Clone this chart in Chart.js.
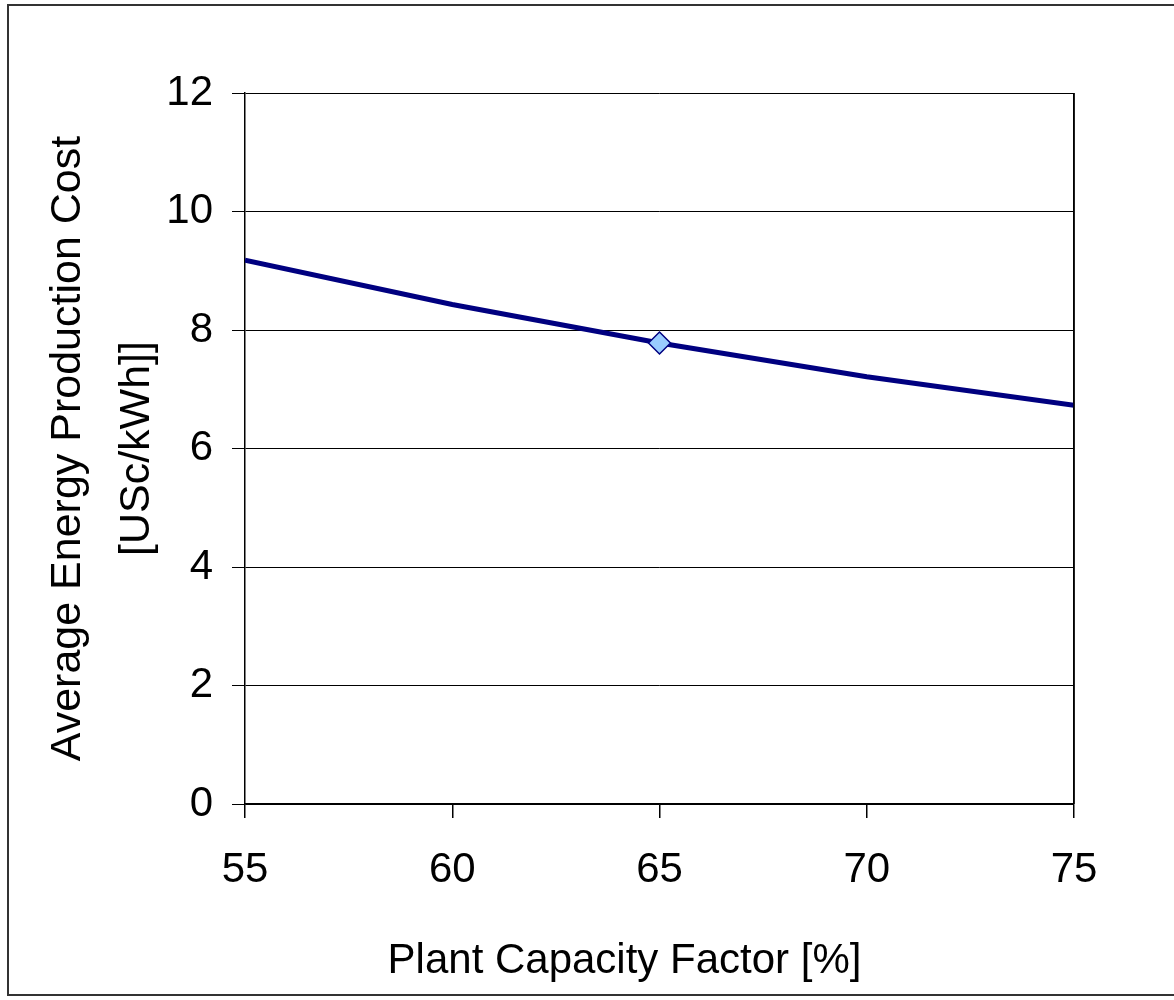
<!DOCTYPE html>
<html>
<head>
<meta charset="utf-8">
<script src="https://cdn.jsdelivr.net/npm/chart.js@4/dist/chart.umd.min.js"></script>
<style>
  html, body { margin: 0; padding: 0; background: #fff; overflow: hidden; }
  #wrap { position: relative; width: 1174px; height: 1000px; }
  #frame { position: absolute; left: 7px; top: 4px; width: 1180px; height: 992px;
           border: 2px solid #333; box-sizing: border-box; pointer-events: none; }
  canvas { position: absolute; left: 0; top: 0; }
</style>
</head>
<body>
<div id="wrap">
  <canvas id="costChart" width="1174" height="1000"></canvas>
  <div id="frame"></div>
</div>
<script>
// ---- data ----
const capacityFactor = [55, 60, 65, 70, 75];
const productionCost = [9.18, 8.43, 7.78, 7.21, 6.73];
const markedFactor = 65;            // the single diamond marker
const yTicks = [0, 2, 4, 6, 8, 10, 12];
const xTicks = [55, 60, 65, 70, 75];

// trailing spaces nudge the centred title left, as in the original
const xTitle = 'Plant Capacity Factor [%]      ';
const yTitle = ['Average Energy Production Cost', '[USc/kWh]]'];

const FONT = "'Liberation Sans', Arial, sans-serif";

const points = capacityFactor.map((x, i) => ({ x: x, y: productionCost[i] }));

new Chart(document.getElementById('costChart'), {
  type: 'line',
  data: {
    datasets: [{
      data: points,
      borderColor: '#000080',
      borderWidth: 5,
      backgroundColor: '#99CCFF',
      tension: 0,
      fill: false,
      pointStyle: 'rectRot',
      pointRadius: ctx => (ctx.raw && ctx.raw.x === markedFactor ? 11 : 0),
      pointBackgroundColor: '#99CCFF',
      pointBorderColor: '#000080',
      pointBorderWidth: 1.5,
    }]
  },
  options: {
    responsive: false,
    animation: false,
    devicePixelRatio: 1,
    layout: { padding: { left: 0, top: 93, right: 100, bottom: 0 } },
    plugins: { legend: { display: false }, tooltip: { enabled: false } },
    scales: {
      x: {
        type: 'linear',
        min: 55,
        max: 75,
        afterBuildTicks: axis => { axis.ticks = xTicks.map(v => ({ value: v })); },
        afterFit: axis => { axis.height = 196; },
        border: { display: true, color: '#000', width: 1.5 },
        grid: {
          color: ctx => (ctx.tick && ctx.tick.value === 75 ? '#000' : 'rgba(0,0,0,0)'),
          tickColor: '#000',
          lineWidth: 1.5,
          tickLength: 14,
          drawOnChartArea: true,
        },
        ticks: {
          color: '#000',
          padding: 27,
          maxRotation: 0,
          font: { family: FONT, size: 42 },
        },
        title: {
          display: true,
          text: xTitle,
          color: '#000',
          font: { family: FONT, size: 42 },
          padding: { top: 0, bottom: 13 },
        },
      },
      y: {
        min: 0,
        max: 12,
        afterBuildTicks: axis => { axis.ticks = yTicks.map(v => ({ value: v })); },
        afterFit: axis => { axis.width = 245; },
        border: { display: true, color: '#000', width: 1.5 },
        grid: {
          color: '#000',
          tickColor: '#000',
          lineWidth: 1,
          tickLength: 13,
        },
        ticks: {
          color: '#000',
          padding: 19,
          font: { family: FONT, size: 42 },
        },
        title: {
          display: true,
          text: yTitle,
          color: '#000',
          font: { family: FONT, size: 43, lineHeight: 1.62 },
          padding: { top: 33, bottom: 0 },
        },
      },
    },
  },
  plugins: [{
    id: 'rightBorder',
    afterDraw(chart) {
      const a = chart.chartArea, c = chart.ctx;
      c.save();
      c.strokeStyle = '#000';
      c.lineWidth = 1.5;
      c.beginPath();
      c.moveTo(a.right, a.top);
      c.lineTo(a.right, a.bottom);
      c.stroke();
      c.restore();
    }
  }]
});
</script>
</body>
</html>
